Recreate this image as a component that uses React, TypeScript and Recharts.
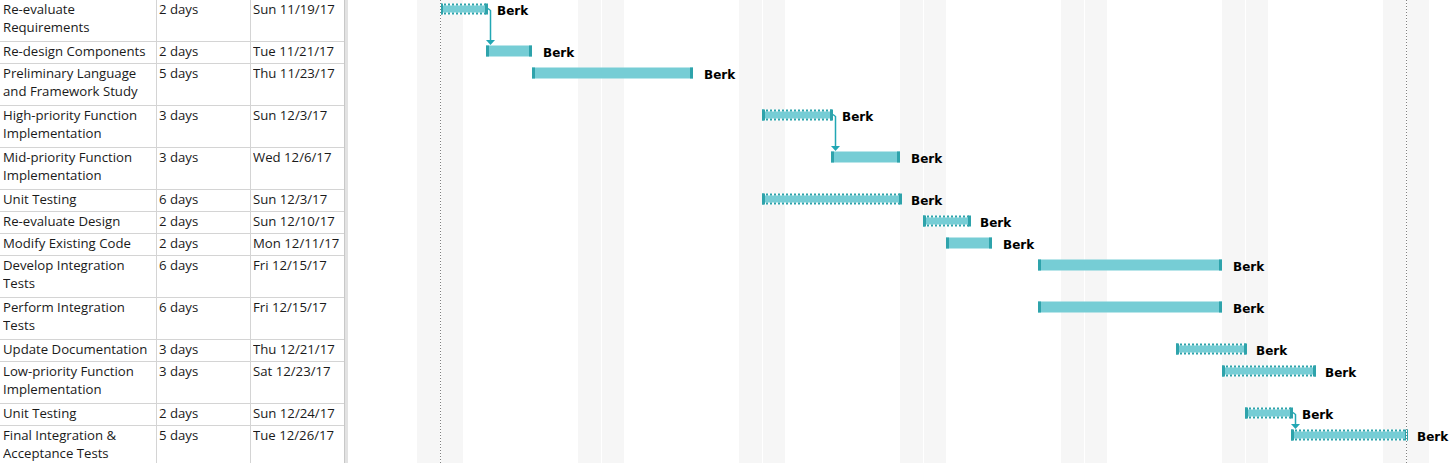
import React from "react";
import { ComposedChart, Bar, XAxis, YAxis, ReferenceArea, ReferenceLine, LabelList } from "recharts";

// task table
const taskNames = [
  "Re-evaluate\nRequirements",
  "Re-design Components",
  "Preliminary Language\nand Framework Study",
  "High-priority Function\nImplementation",
  "Mid-priority Function\nImplementation",
  "Unit Testing",
  "Re-evaluate Design",
  "Modify Existing Code",
  "Develop Integration\nTests",
  "Perform Integration\nTests",
  "Update Documentation",
  "Low-priority Function\nImplementation",
  "Unit Testing",
  "Final Integration &\nAcceptance Tests",
];
const durations = ["2 days", "2 days", "5 days", "3 days", "3 days", "6 days", "2 days", "2 days", "6 days", "6 days", "3 days", "3 days", "2 days", "5 days"];
const startLabels = [
  "Sun 11/19/17", "Tue 11/21/17", "Thu 11/23/17", "Sun 12/3/17", "Wed 12/6/17", "Sun 12/3/17", "Sun 12/10/17",
  "Mon 12/11/17", "Fri 12/15/17", "Fri 12/15/17", "Thu 12/21/17", "Sat 12/23/17", "Sun 12/24/17", "Tue 12/26/17",
];

// gantt bars
const barStarts = [
  "2017-11-19", "2017-11-21", "2017-11-23", "2017-12-03", "2017-12-06", "2017-12-03", "2017-12-10",
  "2017-12-11", "2017-12-15", "2017-12-15", "2017-12-21", "2017-12-23", "2017-12-24", "2017-12-26",
];
const barEnds = [
  "2017-11-21", "2017-11-23", "2017-11-30", "2017-12-06", "2017-12-09", "2017-12-09", "2017-12-12",
  "2017-12-13", "2017-12-23", "2017-12-23", "2017-12-24", "2017-12-27", "2017-12-26", "2017-12-31",
];
const manualTasks = [true, false, false, true, false, true, true, false, false, false, true, true, true, true];
const resources = ["Berk", "Berk", "Berk", "Berk", "Berk", "Berk", "Berk", "Berk", "Berk", "Berk", "Berk", "Berk", "Berk", "Berk"];
const links = [[0, 1], [3, 4], [12, 13]];
const weekendSaturdays = ["2017-11-18", "2017-11-25", "2017-12-02", "2017-12-09", "2017-12-16", "2017-12-23", "2017-12-30"];
const timelineStart = "2017-11-15";

const DAY_PX = 23;
const TABLE_W = 348;
const CHART_W = 1451 - TABLE_W;
const CHART_H = 463;
const FILL = "#76cdd5";
const DARK = "#2ea3ab";
const ARROW = "#22a7b4";
const GRID = "#d4d4d4";

const toDay = (s: string) => {
  const [y, m, d] = s.split("-").map(Number);
  const [y0, m0, d0] = timelineStart.split("-").map(Number);
  return Math.round((Date.UTC(y, m - 1, d) - Date.UTC(y0, m0 - 1, d0)) / 86400000);
};

const rowHeights = taskNames.map((n) => n.split("\n").length * 20 + 2);
const rowTops = rowHeights.map((_, i) => rowHeights.slice(0, i).reduce((a, b) => a + b, 0));

const ganttData = taskNames.map((name, i) => ({
  name,
  y: rowTops[i] + 8.5,
  range: [toDay(barStarts[i]), toDay(barEnds[i])],
  manual: manualTasks[i],
  resource: resources[i],
}));

const projectStart = Math.min(...ganttData.map((d) => d.range[0]));
const projectFinish = Math.max(...ganttData.map((d) => d.range[1]));

const TaskBar = (props: any) => {
  const { x, y, width, height } = props;
  const manual = props.payload ? props.payload.manual : props.manual;
  if (!manual) {
    return (
      <g>
        <rect x={x} y={y} width={width} height={height} fill={FILL} />
        <rect x={x} y={y} width={3} height={height} fill={DARK} />
        <rect x={x + width - 3} y={y} width={3} height={height} fill={DARK} />
      </g>
    );
  }
  const w = width + 2;
  return (
    <g>
      <rect x={x} y={y} width={w} height={height} fill="#fff" />
      <rect x={x} y={y + 2} width={w} height={height - 4} fill={FILL} />
      <line x1={x} x2={x + w} y1={y + 1} y2={y + 1} stroke={DARK} strokeWidth={2} strokeDasharray="2 2" />
      <line x1={x} x2={x + w} y1={y + height - 1} y2={y + height - 1} stroke={DARK} strokeWidth={2} strokeDasharray="2 2" />
      <rect x={x} y={y} width={3} height={height} fill={DARK} />
      <rect x={x + w - 3} y={y} width={3} height={height} fill={DARK} />
    </g>
  );
};

const WeekendShape = (props: any) => {
  const { x, y, width, height } = props;
  return (
    <g>
      <rect x={x} y={y} width={width} height={height} fill="#f6f6f6" />
      <rect x={x + width / 2} y={y} width={1} height={height} fill="#ffffff" />
    </g>
  );
};

const ProjectLine = (props: any) => {
  const { x1, y1, y2 } = props;
  const x = Math.round(x1) + 0.5;
  return (
    <g>
      <line x1={x} x2={x} y1={y1} y2={y2} stroke="#ffffff" strokeWidth={1} />
      <line x1={x} x2={x} y1={y1} y2={y2} stroke="#808080" strokeWidth={1} strokeDasharray="1 2" />
    </g>
  );
};

const LinkArrow = (props: any) => {
  const { x1, y1, y2 } = props;
  const ax = x1 + 4.5;
  return (
    <g>
      <path d={`M${x1 + 2},${y1} L${ax},${y1 + 2} L${ax},${y2 - 4}`} stroke={ARROW} strokeWidth={1.5} fill="none" />
      <path d={`M${ax - 4.5},${y2 - 5} L${ax + 4.5},${y2 - 5} L${ax},${y2} Z`} fill={ARROW} />
    </g>
  );
};

function TaskTable() {
  const cell: React.CSSProperties = {
    position: "absolute",
    top: 0,
    paddingTop: 1,
    whiteSpace: "pre",
    lineHeight: "17.5px",
    overflow: "hidden",
  };
  return (
    <div
      style={{
        position: "absolute",
        left: 0,
        top: 0,
        width: TABLE_W,
        height: CHART_H,
        overflow: "hidden",
        fontFamily: "'Open Sans', sans-serif",
        fontSize: 13.2,
        color: "#1a1a1a",
      }}
    >
      {taskNames.map((name, i) => (
        <div
          key={i}
          style={{
            position: "absolute",
            left: 0,
            top: rowTops[i],
            width: 344,
            height: rowHeights[i],
            boxSizing: "border-box",
            borderBottom: `1px solid ${GRID}`,
          }}
        >
          <div style={{ ...cell, left: 3, width: 152 }}>{name}</div>
          <div style={{ ...cell, left: 159, width: 90 }}>{durations[i]}</div>
          <div style={{ ...cell, left: 253, width: 90 }}>{startLabels[i]}</div>
        </div>
      ))}
      <div style={{ position: "absolute", left: 156, top: 0, width: 1, height: CHART_H, background: GRID }} />
      <div style={{ position: "absolute", left: 250, top: 0, width: 1, height: CHART_H, background: GRID }} />
      <div style={{ position: "absolute", left: 344, top: 0, width: 1, height: CHART_H, background: "#c8c8c8" }} />
      <div style={{ position: "absolute", left: 345, top: 0, width: 3, height: CHART_H, background: "#e2e2e2" }} />
    </div>
  );
}

export default function App() {
  return (
    <div style={{ position: "absolute", left: 0, top: 0, width: 1451, height: CHART_H, background: "#fff", overflow: "hidden" }}>
      <TaskTable />
      <div style={{ position: "absolute", left: TABLE_W, top: 0 }}>
        <ComposedChart
          width={CHART_W}
          height={CHART_H}
          data={ganttData}
          layout="vertical"
          margin={{ top: 0, right: 0, bottom: 0, left: 0 }}
        >
          <XAxis type="number" dataKey="range" domain={[0, CHART_W / DAY_PX]} allowDataOverflow hide />
          <YAxis type="number" dataKey="y" domain={[0, CHART_H]} allowDataOverflow hide />
          {weekendSaturdays.map((s) => (
            <ReferenceArea
              key={s}
              x1={toDay(s)}
              x2={toDay(s) + 2}
              y1={0}
              y2={CHART_H}
              shape={WeekendShape}
              ifOverflow="extendDomain"
              zIndex={-10}
            />
          ))}
          <Bar dataKey="range" barSize={11} shape={TaskBar} isAnimationActive={false}>
            <LabelList
              dataKey="resource"
              position="right"
              offset={11}
              dy={1.5}
              fill="#000"
              fontSize={12}
              fontWeight="bold"
              fontFamily="'DejaVu Sans', sans-serif"
            />
          </Bar>
          <ReferenceLine x={projectStart} shape={ProjectLine} zIndex={1500} />
          <ReferenceLine x={projectFinish} shape={ProjectLine} zIndex={1500} />
          {links.map(([p, s]) => (
            <ReferenceLine
              key={`${p}-${s}`}
              segment={[
                { x: ganttData[p].range[1], y: ganttData[p].y },
                { x: ganttData[p].range[1], y: rowTops[s] + 3 },
              ]}
              shape={LinkArrow}
              zIndex={1500}
            />
          ))}
        </ComposedChart>
      </div>
    </div>
  );
}
